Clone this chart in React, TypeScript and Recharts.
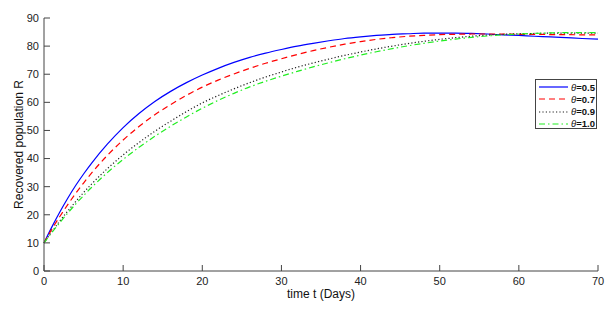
import React from 'react';
import { LineChart, Line, XAxis, YAxis } from 'recharts';

// time (days) and recovered population R for each theta
const days = [0, 1, 2, 3, 4, 5, 6, 8, 10, 12, 14, 16, 18, 20, 22, 24, 26, 28, 30, 32, 34, 36, 38, 40, 42, 44, 46, 48, 50, 52, 54, 56, 58, 60, 62, 64, 66, 68, 70];
const theta05 = [10, 15.7, 21.0, 25.9, 30.4, 34.5, 38.3, 45.1, 51.0, 56.0, 60.3, 63.9, 67.0, 69.7, 72.1, 74.2, 76.0, 77.5, 78.8, 80.0, 81.0, 81.9, 82.7, 83.3, 83.8, 84.2, 84.4, 84.6, 84.6, 84.6, 84.5, 84.3, 84.0, 83.8, 83.5, 83.3, 83.0, 82.7, 82.5];
const theta07 = [10, 14.9, 19.4, 23.6, 27.6, 31.3, 34.8, 41.1, 46.6, 51.4, 55.6, 59.2, 62.5, 65.4, 67.9, 70.1, 72.1, 73.9, 75.5, 77.0, 78.4, 79.6, 80.7, 81.6, 82.4, 83.0, 83.5, 83.8, 84.1, 84.2, 84.3, 84.3, 84.3, 84.2, 84.2, 84.1, 84.1, 84.0, 84.0];
const theta09 = [10, 14.0, 17.8, 21.3, 24.7, 27.9, 30.9, 36.4, 41.3, 45.7, 49.7, 53.3, 56.7, 59.8, 62.4, 64.8, 67.0, 69.0, 70.8, 72.5, 74.0, 75.4, 76.7, 77.9, 79.0, 80.0, 80.9, 81.7, 82.4, 83.0, 83.5, 83.9, 84.2, 84.4, 84.5, 84.6, 84.6, 84.6, 84.6];
const theta10 = [10, 13.7, 17.2, 20.6, 23.8, 26.8, 29.7, 35.0, 39.7, 44.0, 47.9, 51.5, 54.8, 57.9, 60.7, 63.2, 65.5, 67.5, 69.3, 71.0, 72.6, 74.1, 75.5, 76.8, 78.0, 79.1, 80.1, 81.0, 81.8, 82.5, 83.1, 83.6, 84.0, 84.3, 84.5, 84.7, 84.8, 84.8, 84.8];

const xTicks = [0, 10, 20, 30, 40, 50, 60, 70];
const yTicks = [0, 10, 20, 30, 40, 50, 60, 70, 80, 90];

const series = [
  { key: 'a', theta: '0.5', values: theta05, color: '#0000ff', dash: undefined },
  { key: 'b', theta: '0.7', values: theta07, color: '#ff0000', dash: '6 4' },
  { key: 'c', theta: '0.9', values: theta09, color: '#222222', dash: '1.2 2.2' },
  { key: 'd', theta: '1.0', values: theta10, color: '#22ee22', dash: '6 3 1.5 3' },
];

const data = days.map((t, i) => {
  const row: Record<string, number> = { t };
  series.forEach((s) => {
    row[s.key] = s.values[i];
  });
  return row;
});

const font = 'Arial, "Liberation Sans", Helvetica, sans-serif';
const axisColor = '#444';
const tickText = { fontFamily: font, fontSize: 11, fill: '#222' };
const blank = () => '';

const App: React.FC = () => {
  return (
    <div style={{ position: 'absolute', left: 0, top: 0, width: 615, height: 329, background: '#fff' }}>
      <LineChart
        width={615}
        height={329}
        data={data}
        margin={{ top: 18, right: 17, bottom: 28, left: 0 }}
      >
        <XAxis
          dataKey="t"
          type="number"
          domain={[0, 70]}
          ticks={xTicks}
          interval={0}
          height={30}
          tick={tickText}
          tickSize={-6}
          tickMargin={12}
          stroke={axisColor}
          label={{
            value: 'time t (Days)',
            position: 'bottom',
            offset: -12,
            style: { fontFamily: font, fontSize: 12, fill: '#111' },
          }}
        />
        <XAxis
          xAxisId="top"
          orientation="top"
          dataKey="t"
          type="number"
          domain={[0, 70]}
          ticks={xTicks}
          interval={0}
          height={0}
          tickSize={-6}
          tickFormatter={blank}
          stroke={axisColor}
        />
        <YAxis
          domain={[0, 90]}
          ticks={yTicks}
          interval={0}
          width={44}
          tick={tickText}
          tickSize={-6}
          tickMargin={11}
          stroke={axisColor}
          label={{
            value: 'Recovered population R',
            angle: -90,
            position: 'insideLeft',
            offset: 19,
            style: { fontFamily: font, fontSize: 12, fill: '#111', textAnchor: 'middle' },
          }}
        />
        <YAxis
          yAxisId="right"
          orientation="right"
          domain={[0, 90]}
          ticks={yTicks}
          interval={0}
          width={0}
          tickSize={-6}
          tickFormatter={blank}
          stroke={axisColor}
        />
        {series.map((s) => (
          <Line
            key={s.key}
            dataKey={s.key}
            type="monotone"
            stroke={s.color}
            strokeWidth={1.2}
            strokeDasharray={s.dash}
            dot={false}
            activeDot={false}
            isAnimationActive={false}
          />
        ))}
      </LineChart>

      {/* legend box, MATLAB style */}
      <div
        style={{
          position: 'absolute',
          left: 535,
          top: 79,
          width: 62,
          height: 50,
          border: '1px solid #444',
          background: '#fff',
          boxSizing: 'border-box',
        }}
      >
        {series.map((s, i) => (
          <div
            key={s.key}
            style={{ position: 'absolute', left: 3, top: 1 + i * 12.3, height: 12, display: 'flex', alignItems: 'center' }}
          >
            <svg width={30} height={12} style={{ display: 'block' }}>
              <line x1={0} y1={6} x2={29} y2={6} stroke={s.color} strokeWidth={1.2} strokeDasharray={s.dash} />
            </svg>
            <span style={{ fontFamily: font, fontSize: 9.5, color: '#111', marginLeft: 2, whiteSpace: 'nowrap', fontWeight: 'bold' }}>
              <i style={{ fontWeight: 'normal' }}>θ</i>=
              {s.theta}
            </span>
          </div>
        ))}
      </div>
    </div>
  );
};

export default App;
